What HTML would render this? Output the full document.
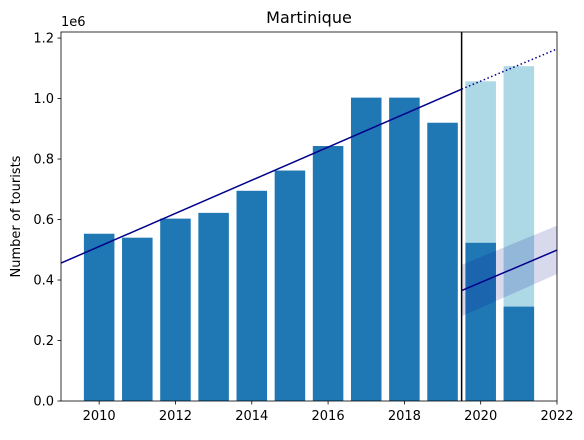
<!DOCTYPE html>
<html><head><meta charset="utf-8"><style>
body{margin:0;background:#fff;font-family:"Liberation Sans","DejaVu Sans",sans-serif}
svg text{font-family:"DejaVu Sans","Liberation Sans",sans-serif}
</style></head><body>
<svg id="chart" width="584" height="435" xmlns="http://www.w3.org/2000/svg"></svg>
<script>
const years=[2010,2011,2012,2013,2014,2015,2016,2017,2018,2019,2020,2021];
const actual=[0.553,0.540,0.603,0.622,0.695,0.762,0.843,1.003,1.003,0.920,0.523,0.312];
const expectedYears=[2020,2021];
const expected=[1.057,1.107];
const trendX=[2009,2019.5,2022];
const trendY=[0.456,1.031,1.164];
const recovX=[2019.5,2022];
const recovY=[0.365,0.499];
const recovLo=[0.28,0.42];
const recovHi=[0.45,0.58];
const xTicks=[2010,2012,2014,2016,2018,2020,2022];
const yTicks=[0,0.2,0.4,0.6,0.8,1.0,1.2];
const L=61,R=557,T=32,B=401,x0=2009,x1=2022,y0=0,y1=1.22;
const X=v=>L+(v-x0)/(x1-x0)*(R-L);
const Y=v=>B-(v-y0)/(y1-y0)*(B-T);
const svg=document.getElementById('chart');const NS='http://www.w3.org/2000/svg';
function mk(t,a,p){const e=document.createElementNS(NS,t);for(const k in a)e.setAttribute(k,a[k]);(p||svg).appendChild(e);return e;}
const defs=mk('clipPath',{id:'clip'});mk('rect',{x:L,y:T,width:R-L,height:B-T},defs);
const g=mk('g',{'clip-path':'url(#clip)'});
expectedYears.forEach((yr,i)=>{const e=mk('rect',{x:X(yr-0.4),y:Y(expected[i]),width:X(yr+0.4)-X(yr-0.4),height:Y(0)-Y(expected[i]),fill:'#add8e6'},g);

});
years.forEach((yr,i)=>{const e=mk('rect',{x:X(yr-0.4),y:Y(actual[i]),width:X(yr+0.4)-X(yr-0.4),height:Y(0)-Y(actual[i]),fill:'#1f77b4'},g);

});
const band=mk('polygon',{points:`${X(recovX[0])},${Y(recovLo[0])} ${X(recovX[1])},${Y(recovLo[1])} ${X(recovX[1])},${Y(recovHi[1])} ${X(recovX[0])},${Y(recovHi[0])}`,fill:'#00008b','fill-opacity':0.15},g);


const t1=mk('line',{x1:X(trendX[0]),y1:Y(trendY[0]),x2:X(trendX[1]),y2:Y(trendY[1]),stroke:'#00008b','stroke-width':1.5},g);


const t2=mk('line',{x1:X(trendX[1]),y1:Y(trendY[1]),x2:X(trendX[2]),y2:Y(trendY[2]),stroke:'#00008b','stroke-width':1.5,'stroke-dasharray':'1.5,2.5'},g);


const rl=mk('line',{x1:X(recovX[0]),y1:Y(recovY[0]),x2:X(recovX[1]),y2:Y(recovY[1]),stroke:'#00008b','stroke-width':1.5},g);


const vl=mk('line',{x1:X(2019.5),y1:T,x2:X(2019.5),y2:B,stroke:'#000','stroke-width':1.5},g);


mk('rect',{x:L,y:T,width:R-L,height:B-T,fill:'none',stroke:'#000','stroke-width':0.8});
xTicks.forEach(v=>{mk('line',{x1:X(v),y1:B,x2:X(v),y2:B+3.5,stroke:'#000','stroke-width':0.8});
const t=mk('text',{x:X(v),y:B+19,'font-size':13,'text-anchor':'middle'});t.textContent=v;

});
yTicks.forEach(v=>{mk('line',{x1:L,y1:Y(v),x2:L-3.5,y2:Y(v),stroke:'#000','stroke-width':0.8});
const t=mk('text',{x:L-7,y:Y(v)+4.5,'font-size':13,'text-anchor':'end'});t.textContent=v.toFixed(1);

});
const off=mk('text',{x:L,y:T-6,'font-size':13});off.textContent='1e6';


const ti=mk('text',{x:(L+R)/2,y:T-9,'font-size':16,'text-anchor':'middle'});ti.textContent='Martinique';


const yl=mk('text',{x:20,y:(T+B)/2,'font-size':13,'text-anchor':'middle',transform:`rotate(-90 20 ${(T+B)/2})`});yl.textContent='Number of tourists';


</script>
</body></html>
